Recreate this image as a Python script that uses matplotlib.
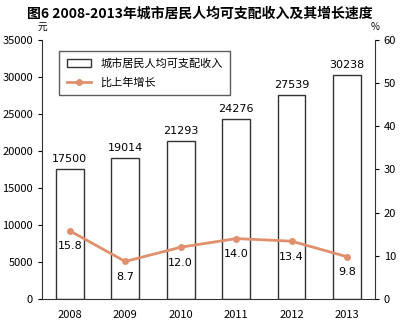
import matplotlib.pyplot as plt
from matplotlib.patches import Patch
from matplotlib.lines import Line2D

plt.rcParams['font.family'] = ['Noto Sans CJK SC', 'DejaVu Sans']

years = ['2008', '2009', '2010', '2011', '2012', '2013']
income = [17500, 19014, 21293, 24276, 27539, 30238]
growth = [15.8, 8.7, 12.0, 14.0, 13.4, 9.8]

line_color = '#E0906C'

fig = plt.figure(figsize=(4, 3.33), dpi=100)
ax1 = fig.add_axes([0.105, 0.102, 0.832, 0.778])
x = list(range(len(years)))

ax1.bar(x, income, width=0.5, facecolor='white', edgecolor='#333333', linewidth=1.0)
for xi, v in zip(x, income):
    ax1.text(xi, v + 700, str(v), ha='center', va='bottom', fontsize=8, family='DejaVu Sans')

ax1.set_xlim(-0.5, 5.5)
ax1.set_ylim(0, 35000)
ax1.set_yticks(range(0, 35001, 5000))
ax1.set_xticks(x)
ax1.set_xticklabels(years)
ax1.tick_params(axis='x', length=0, labelsize=8, pad=8)
ax1.tick_params(axis='y', labelsize=8, length=3, direction='out')
for s in ['top', 'right']:
    ax1.spines[s].set_visible(False)
ax1.spines['left'].set_color('#333333')
ax1.spines['bottom'].set_color('#333333')

ax2 = ax1.twinx()
ax2.plot(x, growth, color=line_color, linewidth=2, marker='o', markersize=4)
for xi, g in zip(x, growth):
    ax2.text(xi, g - 2.4, '%.1f' % g, ha='center', va='top', fontsize=8, family='DejaVu Sans')
ax2.set_ylim(0, 60)
ax2.set_yticks(range(0, 61, 10))
ax2.tick_params(axis='y', labelsize=8, length=3, direction='out')
for s in ['top', 'left', 'bottom']:
    ax2.spines[s].set_visible(False)
ax2.spines['right'].set_color('#333333')

ax1.text(0.0, 1.03, '元', transform=ax1.transAxes, ha='center', va='bottom', fontsize=7)
ax2.text(1.0, 1.03, '%', transform=ax2.transAxes, ha='center', va='bottom', fontsize=7)

handles = [Patch(facecolor='white', edgecolor='#333333'),
           Line2D([0], [0], color=line_color, linewidth=2, marker='o', markersize=4)]
leg = ax1.legend(handles, ['城市居民人均可支配收入', '比上年增长'], loc='upper left',
                 bbox_to_anchor=(0.035, 0.98), fontsize=8, frameon=True, fancybox=False,
                 edgecolor='#333333', handlelength=2.2, borderpad=0.7, labelspacing=0.7)
leg.get_frame().set_linewidth(1.0)

fig.text(0.5, 0.96, '图6 2008-2013年城市居民人均可支配收入及其增长速度', ha='center', va='center',
         fontsize=10, fontweight='bold')

fig.savefig('out.png', dpi=100)
